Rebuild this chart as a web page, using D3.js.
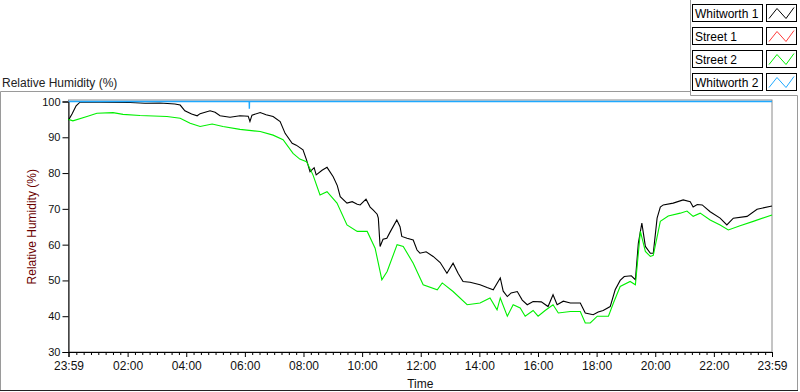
<!DOCTYPE html>
<html>
<head>
<meta charset="utf-8">
<script src="https://cdn.jsdelivr.net/npm/d3@7/dist/d3.min.js"></script>
<style>
body { margin: 0; background: #fff; }
text { font-family: "Liberation Sans", Arial, sans-serif; }
</style>
</head>
<body>
<div id="chart"></div>
<script>
// time is hours elapsed since 23:59 of the previous day
var w1Time = [0,0.12,0.26,0.39,1.08,2.1,2.61,3.12,3.63,3.81,3.97,4.2,4.39,4.49,4.83,5.0,5.17,5.51,5.85,6.13,6.19,6.26,6.54,6.74,6.98,7.22,7.39,7.63,7.77,8.0,8.12,8.24,8.38,8.45,8.65,8.82,9.03,9.17,9.27,9.5,9.68,9.85,9.95,10.15,10.29,10.39,10.53,10.57,10.63,10.73,10.86,10.97,11.2,11.31,11.37,11.55,11.76,11.89,11.99,12.2,12.44,12.68,12.91,13.12,13.29,13.46,13.7,14.04,14.28,14.49,14.73,14.83,14.97,15.1,15.31,15.48,15.65,15.85,16.13,16.36,16.53,16.67,16.88,17.12,17.46,17.63,17.9,18.07,18.24,18.48,18.65,18.82,18.96,19.2,19.34,19.44,19.56,19.68,19.85,19.95,20.08,20.19,20.29,20.63,20.97,21.21,21.31,21.45,21.62,21.89,22.23,22.46,22.68,23.15,23.49,24];
var w1Hum = [94.8,96.5,98.8,99.8,99.8,99.7,99.5,99.6,99.3,99.0,97.4,96.5,96.0,96.6,97.4,97.0,96.0,95.6,96.0,95.9,94.4,96.2,96.9,96.3,95.8,94.4,91.1,88.3,87.8,86.5,83.7,80.4,81.5,79.5,80.8,81.6,79.0,76.5,73.4,71.6,72.0,71.3,71.1,72.7,70.5,69.7,68.5,67.4,59.5,61.5,61.8,63.5,66.9,65.0,62.3,61.8,61.3,58.5,57.6,58.0,56.7,55.0,52.0,54.8,52.0,49.7,49.5,48.8,48.0,47.4,50.7,47.0,45.5,46.5,46.9,44.5,43.2,44.1,44.0,42.7,46.0,43.2,44.2,43.7,43.7,40.9,40.4,41.2,41.6,42.7,47.4,50.0,51.1,51.3,50.2,60.4,66.0,59.5,57.6,57.6,67.4,70.5,71.1,71.6,72.5,72.0,70.5,71.2,71.1,69.2,67.4,65.5,67.4,67.9,69.9,70.8];

var s2Time = [0,0.15,0.63,0.97,1.52,1.86,2.44,3.36,3.81,4.15,4.49,4.9,5.27,5.85,6.54,6.98,7.32,7.66,7.89,8.12,8.34,8.58,8.82,9.16,9.5,9.85,10.19,10.46,10.69,10.87,11.21,11.42,11.76,12.1,12.58,12.75,13.12,13.6,14.04,14.38,14.62,14.73,14.97,15.17,15.41,15.58,15.85,16.02,16.26,16.53,16.71,17.12,17.46,17.63,17.8,18.04,18.42,18.59,18.82,19.16,19.34,19.51,19.68,19.85,19.95,20.19,20.46,20.87,21.1,21.31,21.55,21.89,22.23,22.51,22.91,23.36,24];
var s2Hum = [95.0,94.6,95.8,96.7,96.9,96.4,96.1,95.8,95.3,93.9,93.0,93.7,93.0,92.2,91.6,90.6,89.3,85.5,83.9,83.2,79.5,73.9,74.8,71.6,65.5,63.7,63.7,59.0,50.2,52.5,60.0,59.5,54.8,48.8,47.4,49.3,46.9,43.2,43.7,45.1,41.8,45.1,40.0,43.2,42.3,40.0,41.6,40.0,41.6,43.2,40.9,41.3,41.3,38.1,38.1,40.0,40.0,43.7,48.3,49.7,48.8,63.7,58.1,56.7,57.0,66.5,68.0,68.8,69.4,67.9,68.8,66.9,65.5,64.1,65.3,66.5,68.3];

var s1Time = [0,24];
var s1Hum = [100,100];

var w2Time = [0,6.165,6.17,6.175,24];
var w2Hum = [100,100,98.0,100,100];

var seriesNames = ["Whitworth 1","Street 1","Street 2","Whitworth 2"];
var seriesColors = ["#000000","#ff3b3b","#00f000","#1ea9ff"];

var yTicks = [30,40,50,60,70,80,90,100];
var xTickLabels = ["23:59","02:00","04:00","06:00","08:00","10:00","12:00","14:00","16:00","18:00","20:00","22:00","23:59"];

var width = 800, height = 392;
var plotLeft = 68.5, plotRight = 772, plotTop = 101.5, plotBottom = 352;

var svg = d3.select("#chart").append("svg")
  .attr("width", width)
  .attr("height", height);

// outer panel frame
svg.append("path")
  .attr("d", "M0.5,390 V91.5 H690.5 M690.5,0 V95.5 H797.5 V390")
  .attr("fill", "none").attr("stroke", "#9a9a9a");
svg.append("line")
  .attr("x1", 0).attr("x2", 798).attr("y1", 390.5).attr("y2", 390.5)
  .attr("stroke", "#222");

svg.append("text")
  .attr("x", 2).attr("y", 87)
  .attr("font-size", 12).attr("fill", "#222")
  .text("Relative Humidity (%)");

var x = d3.scaleLinear().domain([0, 24]).range([plotLeft, plotRight]);
var y = d3.scaleLinear().domain([30, 100]).range([plotBottom, plotTop]);

// plot area
svg.append("rect")
  .attr("x", plotLeft).attr("y", plotTop - 1.5)
  .attr("width", plotRight - plotLeft).attr("height", plotBottom - plotTop + 1.5)
  .attr("fill", "#fff").attr("stroke", "#8a8a8a");

// y axis
var yAxis = svg.append("g")
  .attr("transform", "translate(" + plotLeft + ",0)")
  .call(d3.axisLeft(y).tickValues(yTicks).tickSize(6).tickPadding(2));
yAxis.select(".domain").attr("stroke", "#000");
yAxis.selectAll("text").attr("font-size", 11).attr("fill", "#111")
  .style("font-family", "'Liberation Sans', Arial, sans-serif");

// x axis: labels are clock times, positions are hours since 23:59
function offsetOf(label, i) {
  if (i === xTickLabels.length - 1) return 24;
  var p = label.split(":").map(Number);
  return (((p[0] * 60 + p[1]) - (23 * 60 + 59) + 1440) % 1440) / 60;
}
var majorPos = xTickLabels.map(offsetOf);
var minorPos = d3.range(1, 96).map(function(q) { return q / 4 + 1 / 60; })
  .filter(function(v) { return (Math.round((v - 1 / 60) * 4) % 8) !== 0; });

var xMinor = svg.append("g")
  .attr("transform", "translate(0," + plotBottom + ")")
  .call(d3.axisBottom(x).tickValues(minorPos).tickSize(3).tickFormat(""));
xMinor.select(".domain").remove();

var xAxis = svg.append("g")
  .attr("transform", "translate(0," + plotBottom + ")")
  .call(d3.axisBottom(x).tickValues(majorPos).tickSize(5).tickPadding(4)
    .tickFormat(function(d, i) { return xTickLabels[i]; }));
xAxis.select(".domain").attr("stroke", "#000");
xAxis.selectAll("text").attr("font-size", 12).attr("fill", "#111")
  .style("font-family", "'Liberation Sans', Arial, sans-serif");

svg.append("text")
  .attr("x", (plotLeft + plotRight) / 2).attr("y", 388)
  .attr("text-anchor", "middle").attr("font-size", 12).attr("fill", "#111")
  .text("Time");

svg.append("text")
  .attr("transform", "translate(36," + ((plotTop + plotBottom) / 2) + ") rotate(-90)")
  .attr("text-anchor", "middle").attr("font-size", 12).attr("fill", "#6b0000")
  .text("Relative Humidity (%)");

// lines, drawn so that Whitworth 2 ends on top
var line = d3.line()
  .x(function(d) { return x(d[0]); })
  .y(function(d) { return y(d[1]); });

function zip(t, v) { return t.map(function(d, i) { return [d, v[i]]; }); }

var plots = [
  { data: zip(w1Time, w1Hum), color: seriesColors[0] },
  { data: zip(s1Time, s1Hum), color: seriesColors[1] },
  { data: zip(s2Time, s2Hum), color: seriesColors[2] },
  { data: zip(w2Time, w2Hum), color: seriesColors[3] }
];
svg.selectAll("path.series")
  .data(plots)
  .enter().append("path")
  .attr("class", "series")
  .attr("d", function(d) { return line(d.data); })
  .attr("fill", "none")
  .attr("stroke", function(d) { return d.color; })
  .attr("stroke-width", function(d, i) { return i === 3 ? 1.4 : 1.1; });

// legend
var legend = svg.selectAll("g.leg")
  .data(seriesNames)
  .enter().append("g")
  .attr("class", "leg")
  .attr("transform", function(d, i) { return "translate(0," + (4.5 + i * 23) + ")"; });

legend.append("rect")
  .attr("x", 692.5).attr("y", 0).attr("width", 70).attr("height", 17)
  .attr("fill", "#fff").attr("stroke", "#000");
legend.append("text")
  .attr("x", 695).attr("y", 13)
  .attr("font-size", 12).attr("fill", "#000")
  .text(function(d) { return d; });
legend.append("rect")
  .attr("x", 766.5).attr("y", 0).attr("width", 30).attr("height", 17)
  .attr("fill", "#fff").attr("stroke", "#000");
legend.append("path")
  .attr("d", "M769,14 L777,4 L786,14 L794,3")
  .attr("fill", "none")
  .attr("stroke", function(d, i) { return seriesColors[i]; });
</script>
</body>
</html>
